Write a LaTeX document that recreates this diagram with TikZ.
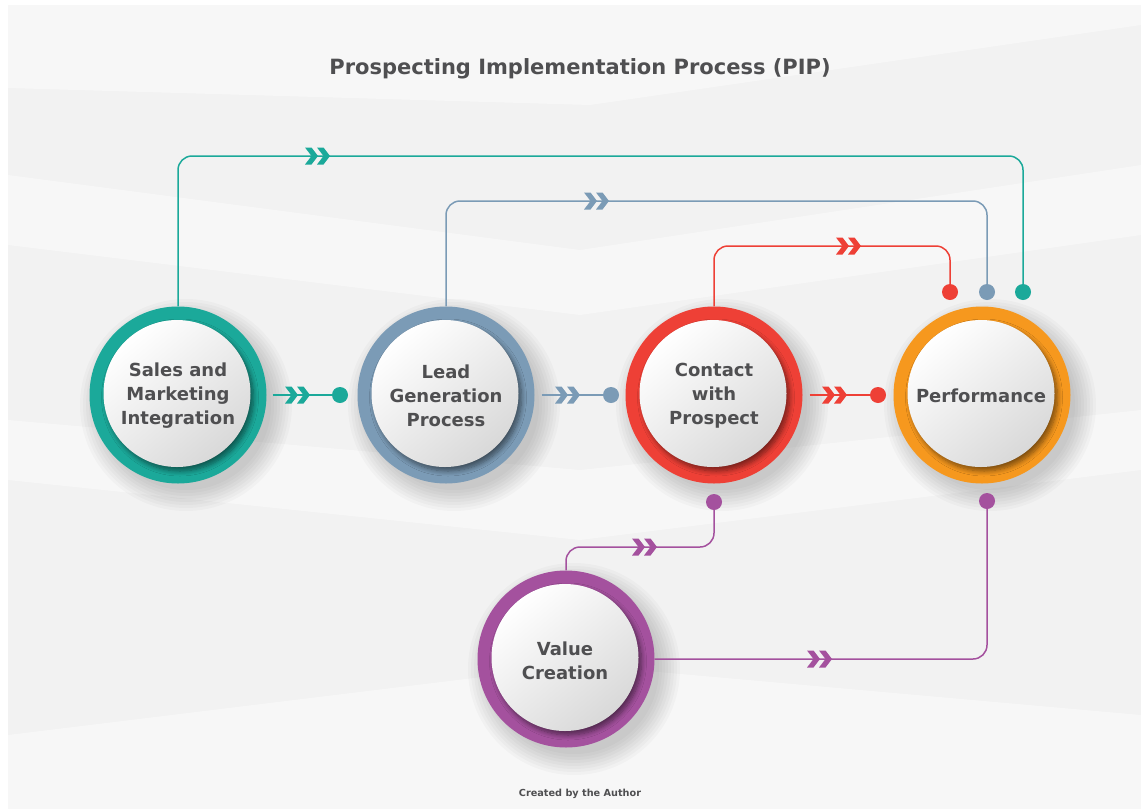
\documentclass[tikz,border=0pt]{standalone}
\usepackage{fontspec}
\setmainfont{DejaVu Sans}
\usetikzlibrary{shadows.blur,calc}
\definecolor{cteal}{HTML}{1BA99A}
\definecolor{cblue}{HTML}{7B9BB6}
\definecolor{cred}{HTML}{EE4036}
\definecolor{corange}{HTML}{F6981E}
\definecolor{cpurple}{HTML}{A4519E}
\definecolor{ctext}{HTML}{4F4F51}
\definecolor{cbg}{HTML}{F2F2F2}
\tikzset{
  ring/.style={circle, minimum size=177pt, inner sep=0pt, fill=#1},
  face/.style={circle, minimum size=147pt, inner sep=0pt, shading=axis,
    top color=white, bottom color=black!15, shading angle=40,
    blur shadow={shadow xshift=3pt, shadow yshift=-4pt, shadow blur radius=5pt, shadow opacity=50, shadow blur steps=8}},
  lbl/.style={text=ctext, font=\fontsize{18}{24}\selectfont\bfseries, align=center, inner sep=0pt},
  dot/.style={circle, minimum size=16pt, inner sep=0pt, fill=#1},
  link/.style={draw=#1, line width=1.5pt, rounded corners=14pt},
  dchev/.pic={\path[pic actions] (0,-8.5) -- (6.5,-8.5) -- (13,0) -- (6.5,8.5) -- (0,8.5) -- (6.5,0) -- cycle
      (12,-8.5) -- (18.5,-8.5) -- (25,0) -- (18.5,8.5) -- (12,8.5) -- (18.5,0) -- cycle;},
  band/.style={fill=white, opacity=0.4},
  shad/.style={fill=black, opacity=0.022},
}
\newcommand{\myshadow}[2]{%
  \foreach \rr in {106,103,100,97,94,91,88,85}{\fill[shad] (#1+8,#2+10) circle (\rr pt);}}
\begin{document}
\begin{tikzpicture}[x=1pt,y=-1pt]
\useasboundingbox (0,0) rectangle (1141,809);
\fill[white] (0,0) rectangle (1141,809);
\fill[cbg] (8,5) rectangle (1141,809);
% background bands
\fill[band] (8,5) -- (1141,5) -- (1141,25) -- (590,105) -- (8,88) -- cycle;
\fill[band] (8,175) -- (580,250) -- (1141,165) -- (1141,235) -- (580,315) -- (8,245) -- cycle;
\fill[band] (8,420) -- (580,470) -- (1141,410) -- (1141,470) -- (580,540) -- (8,480) -- cycle;
\fill[band] (8,735) -- (580,665) -- (1141,715) -- (1141,809) -- (8,809) -- cycle;

% title
\node[text=ctext, font=\fontsize{21}{25}\selectfont\bfseries] (title) at (580,69) {Prospecting Implementation Process (PIP)};

% shadows
\myshadow{178}{395}
\myshadow{446}{395}
\myshadow{714}{395}
\myshadow{982}{395}
\myshadow{566}{659}

% rings
\node[ring=cteal] (s) at (178,395) {};
\node[ring=cblue] (l) at (446,395) {};
\node[ring=cred] (c) at (714,395) {};
\node[ring=corange] (p) at (982,395) {};
\node[ring=cpurple] (v) at (566,659) {};

\node[face] (sf) at (177,393.5) {};
\node[face] (lf) at (445,393.5) {};
\node[face] (cf) at (713,393.5) {};
\node[face] (pf) at (981,393.5) {};
\node[face] (vf) at (565,657.5) {};

\node[lbl] (st) at (178,396) {Sales and\\Marketing\\Integration};
\node[lbl] (lt) at (446,396) {Lead\\Generation\\Process};
\node[lbl] (ct) at (714,396) {Contact\\with\\Prospect};
\node[lbl] (pt) at (981,396) {Performance};
\node[lbl] (vt) at (565,661) {Value\\Creation};

% dots
\node[dot=cteal] (d1) at (340,395) {};
\node[dot=cblue] (d2) at (611,395) {};
\node[dot=cred] (d3) at (878,395) {};
\node[dot=cred] (rp) at (950,292) {};
\node[dot=cblue] (bp) at (987,292) {};
\node[dot=cteal] (tp) at (1023,292) {};
\node[dot=cpurple] (cv) at (714,502) {};
\node[dot=cpurple] (pv) at (987,501) {};

% connectors
\draw[link=cteal, shorten <=6pt] (s) -- (d1);
\draw[link=cblue, shorten <=7pt] (l) -- (d2);
\draw[link=cred, shorten <=7pt] (c) -- (d3);
\draw[link=cteal] (s.north) -- (s.north |- 0,156) -- (tp |- 0,156) -- (tp);
\draw[link=cblue] (l.north) -- (l.north |- 0,201) -- (bp |- 0,201) -- (bp);
\draw[link=cred] (c.north) -- (c.north |- 0,246) -- (rp |- 0,246) -- (rp);
\draw[link=cpurple] (v.north) -- (v.north |- 0,547) -- (cv |- 0,547) -- (cv);
\draw[link=cpurple] (v.east) -- (pv |- v.east) -- (pv);

% chevrons
\pic[fill=cteal] at (285,395) {dchev};
\pic[fill=cblue] at (555,395) {dchev};
\pic[fill=cred] at (822,395) {dchev};
\pic[fill=cteal] at (305,156) {dchev};
\pic[fill=cblue] at (584,201) {dchev};
\pic[fill=cred] at (836,246) {dchev};
\pic[fill=cpurple] at (632,547) {dchev};
\pic[fill=cpurple] at (807,659) {dchev};

% credit
\node[text=ctext, font=\fontsize{9.7}{12}\selectfont\bfseries] (credit) at (580,794) {Created by the Author};
\end{tikzpicture}
\end{document}
